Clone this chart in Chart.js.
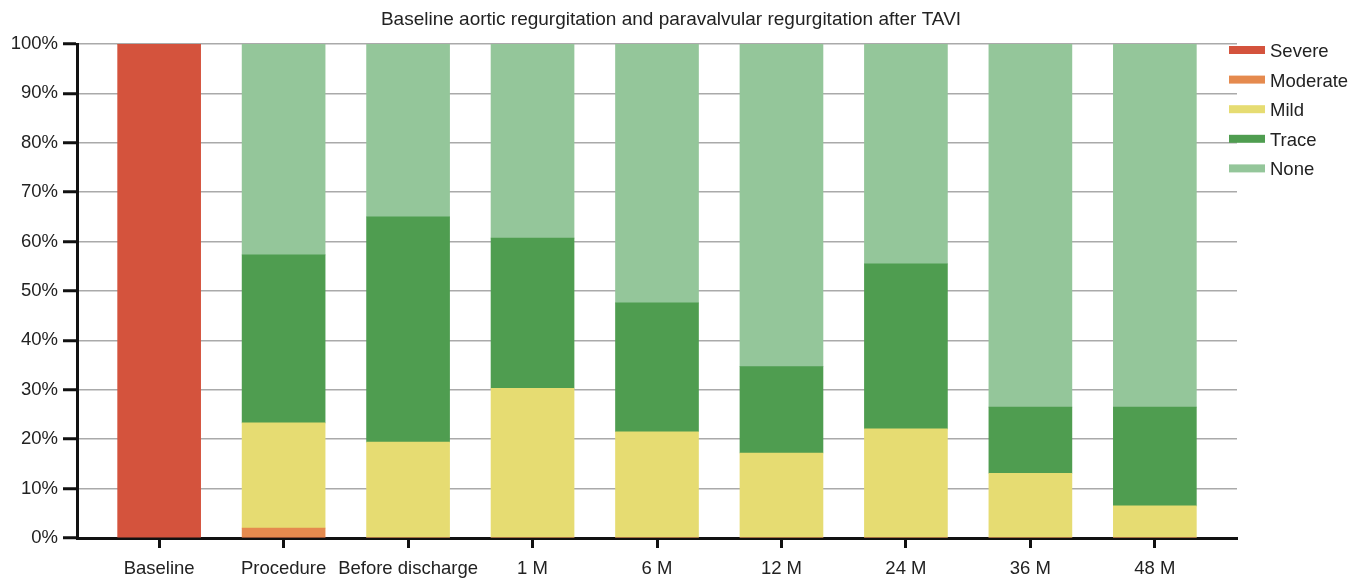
<!DOCTYPE html>
<html>
<head>
<meta charset="utf-8">
<script src="https://cdn.jsdelivr.net/npm/chart.js@4/dist/chart.umd.min.js"></script>
<style>
  html, body { margin: 0; padding: 0; background: #fff; }
  #wrap { width: 1362px; height: 579px; }
</style>
</head>
<body>
<div id="wrap"><canvas id="myChart" width="1362" height="579"></canvas></div>
<script>
// データ
const categories = ['Baseline', 'Procedure', 'Before discharge', '1 M', '6 M', '12 M', '24 M', '36 M', '48 M'];
const severe   = [100, 0,    0,    0,    0,    0,    0,    0,    0];
const moderate = [0,   2.0,  0,    0,    0,    0,    0,    0,    0];
const mild     = [0,   21.3, 19.4, 30.3, 21.5, 17.2, 22.1, 13.1, 6.5];
const trace    = [0,   34.0, 45.6, 30.4, 26.1, 17.5, 33.4, 13.4, 20.0];
const none     = [0,   42.7, 35.0, 39.3, 52.4, 65.3, 44.5, 73.5, 73.5];
const yTicks = [0, 10, 20, 30, 40, 50, 60, 70, 80, 90, 100];

const FONT = '"Liberation Sans", Arial, Helvetica, sans-serif';
const TEXT = '#222';
const FS = 18.5;

function toPoints(arr) {
    return arr.map((v, i) => ({ x: i, y: v }));
}

const series = [
    { label: 'Severe',   data: severe,   color: '#d4533d' },
    { label: 'Moderate', data: moderate, color: '#e58a4e' },
    { label: 'Mild',     data: mild,     color: '#e6dc72' },
    { label: 'Trace',    data: trace,    color: '#4f9d50' },
    { label: 'None',     data: none,     color: '#94c69a' }
];

// タイトルと凡例を自前で描く
const decor = {
    id: 'decor',
    afterDraw(chart) {
        const ctx = chart.ctx;
        ctx.save();
        ctx.fillStyle = TEXT;
        ctx.font = '19px ' + FONT;
        ctx.textAlign = 'center';
        ctx.textBaseline = 'middle';
        ctx.fillText('Baseline aortic regurgitation and paravalvular regurgitation after TAVI', 671, 20);

        ctx.font = FS + 'px ' + FONT;
        ctx.textAlign = 'left';
        chart.data.datasets.forEach((ds, i) => {
            const y = 50 + i * 29.6;
            ctx.fillStyle = ds.backgroundColor;
            ctx.fillRect(1229, y - 4, 36, 8);
            ctx.fillStyle = TEXT;
            ctx.fillText(ds.label, 1270, y + 2);
        });
        ctx.restore();
    }
};

const ctx = document.getElementById('myChart').getContext('2d');
new Chart(ctx, {
    type: 'bar',
    data: {
        datasets: series.map(s => ({
            label: s.label,
            data: toPoints(s.data),
            backgroundColor: s.color,
            borderWidth: 0,
            barThickness: 83
        }))
    },
    options: {
        responsive: false,
        animation: false,
        layout: { padding: { top: 44, right: 125, left: 0, bottom: 0 } },
        plugins: {
            legend: { display: false },
            title: { display: false },
            tooltip: { enabled: false }
        },
        scales: {
            x: {
                type: 'linear',
                stacked: true,
                offset: false,
                min: -0.66,
                max: 8.66,
                afterBuildTicks(axis) {
                    axis.ticks = categories.map((c, i) => ({ value: i }));
                },
                afterFit(axis) { axis.height = 41; },
                grid: {
                    offset: false,
                    drawOnChartArea: false,
                    drawTicks: true,
                    tickLength: 10,
                    tickColor: '#111',
                    tickWidth: 3
                },
                border: { color: '#111', width: 3 },
                ticks: {
                    autoSkip: false,
                    maxRotation: 0,
                    padding: 10,
                    color: TEXT,
                    font: { family: FONT, size: FS },
                    callback: v => categories[v]
                }
            },
            y: {
                stacked: true,
                min: 0,
                max: 100,
                afterBuildTicks(axis) {
                    axis.ticks = yTicks.map(v => ({ value: v }));
                },
                afterFit(axis) { axis.width = 77; },
                grid: {
                    color: '#aaa',
                    lineWidth: 1.5,
                    tickLength: 14,
                    tickColor: '#111',
                    tickWidth: 3
                },
                border: { color: '#111', width: 3 },
                ticks: {
                    padding: 5,
                    color: TEXT,
                    font: { family: FONT, size: FS },
                    callback: v => v + '%'
                }
            }
        }
    },
    plugins: [decor]
});
</script>
</body>
</html>
